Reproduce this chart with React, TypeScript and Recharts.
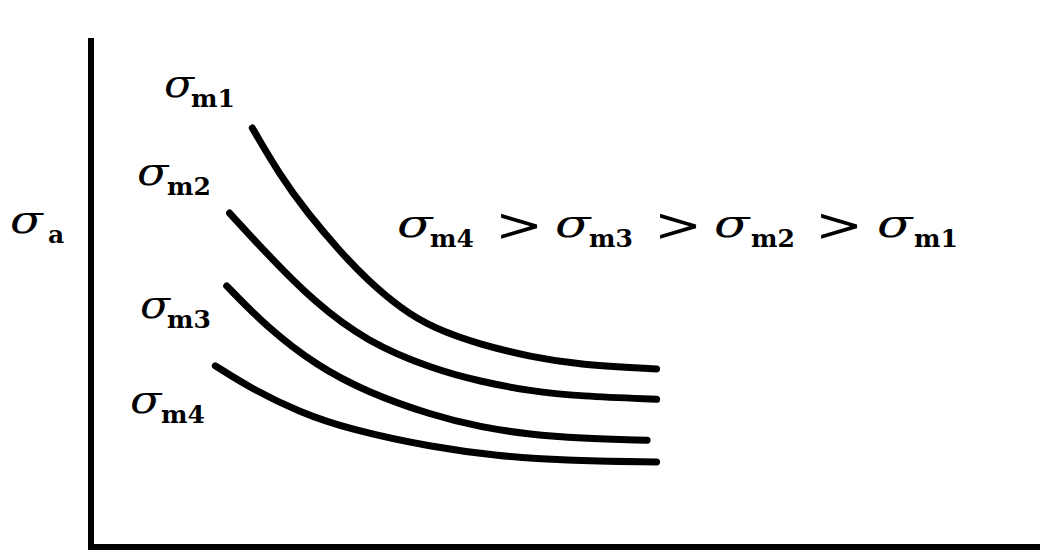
import React from "react";
import { LineChart, Line, XAxis, YAxis } from "recharts";

// Constant-life curves: amplitude stress vs. life, one curve per mean stress level
const curveM1 = [
  { x: 1.7, y: 8.28 },
  { x: 1.99, y: 7.35 },
  { x: 2.28, y: 6.6 },
  { x: 2.62, y: 5.85 },
  { x: 2.91, y: 5.28 },
  { x: 3.26, y: 4.72 },
  { x: 3.6, y: 4.33 },
  { x: 4.1, y: 4.0 },
  { x: 4.63, y: 3.76 },
  { x: 5.15, y: 3.6 },
  { x: 5.96, y: 3.52 },
];

const curveM2 = [
  { x: 1.46, y: 6.6 },
  { x: 1.85, y: 5.8 },
  { x: 2.34, y: 4.86 },
  { x: 2.91, y: 4.05 },
  { x: 3.6, y: 3.52 },
  { x: 4.1, y: 3.27 },
  { x: 4.63, y: 3.08 },
  { x: 5.15, y: 2.98 },
  { x: 5.96, y: 2.92 },
];

const curveM3 = [
  { x: 1.43, y: 5.16 },
  { x: 1.85, y: 4.35 },
  { x: 2.38, y: 3.58 },
  { x: 2.91, y: 3.06 },
  { x: 3.6, y: 2.6 },
  { x: 4.1, y: 2.37 },
  { x: 4.63, y: 2.22 },
  { x: 5.15, y: 2.15 },
  { x: 5.86, y: 2.11 },
];

const curveM4 = [
  { x: 1.31, y: 3.58 },
  { x: 1.68, y: 3.14 },
  { x: 2.2, y: 2.66 },
  { x: 2.73, y: 2.32 },
  { x: 3.6, y: 1.97 },
  { x: 4.28, y: 1.8 },
  { x: 4.97, y: 1.71 },
  { x: 5.96, y: 1.68 },
];

const curves = [curveM1, curveM2, curveM3, curveM4];
const curveNames = ["m1", "m2", "m3", "m4"];

const W = 1040;
const H = 551;

const serif = "'DejaVu Serif', serif";

// σ with a bold subscript; sx stretches the sigma glyph horizontally
function Sigma({ x, y, sub, sx = 1.1, w = 27 }: { x: number; y: number; sub: string; sx?: number; w?: number }) {
  return (
    <g>
      <text
        transform={`translate(${x},${y}) scale(${sx},1)`}
        fill="#000"
        fontFamily={serif}
        fontStyle="italic"
        fontSize={40}
      >
        σ
      </text>
      <text x={x + w} y={y + 10} fill="#000" fontFamily={serif} fontWeight="bold" fontSize={25}>
        {sub}
      </text>
    </g>
  );
}

function Greater({ x, y }: { x: number; y: number }) {
  return (
    <text transform={`translate(${x},${y}) scale(1.25,1)`} fill="#000" fontFamily={serif} fontSize={46}>
      &gt;
    </text>
  );
}

export default function App() {
  return (
    <div style={{ position: "absolute", left: 0, top: 0, width: W, height: H, background: "#fff" }}>
      <LineChart width={W} height={H} margin={{ top: 41, right: 0, left: 90, bottom: 3 }}>
        <XAxis
          type="number"
          dataKey="x"
          domain={[0, 10]}
          height={1}
          tick={false}
          tickLine={false}
          axisLine={{ stroke: "#000", strokeWidth: 6, strokeLinecap: "square" }}
          allowDataOverflow
        />
        <YAxis
          type="number"
          dataKey="y"
          domain={[0, 10]}
          width={1}
          tick={false}
          tickLine={false}
          axisLine={{ stroke: "#000", strokeWidth: 6, strokeLinecap: "square" }}
          allowDataOverflow
        />
        {curves.map((c, i) => (
          <Line
            key={curveNames[i]}
            data={c}
            dataKey="y"
            type="basis"
            stroke="#000"
            strokeWidth={7}
            strokeLinecap="round"
            dot={false}
            activeDot={false}
            isAnimationActive={false}
          />
        ))}
      </LineChart>
      <svg width={W} height={H} style={{ position: "absolute", left: 0, top: 0, pointerEvents: "none" }}>
        <Sigma x={10} y={233} sub="a" sx={1.2} w={38} />
        <Sigma x={164} y={97} sub="m1" />
        <Sigma x={137} y={185} sub="m2" sx={1.15} w={30} />
        <Sigma x={140} y={318} sub="m3" />
        <Sigma x={130} y={413} sub="m4" sx={1.15} w={31} />
        <Sigma x={397} y={237} sub="m4" sx={1.3} w={33} />
        <Greater x={495} y={241} />
        <Sigma x={555} y={237} sub="m3" sx={1.3} w={34} />
        <Greater x={654} y={241} />
        <Sigma x={714} y={237} sub="m2" sx={1.3} w={37} />
        <Greater x={815} y={241} />
        <Sigma x={877} y={237} sub="m1" sx={1.3} w={37} />
      </svg>
    </div>
  );
}
